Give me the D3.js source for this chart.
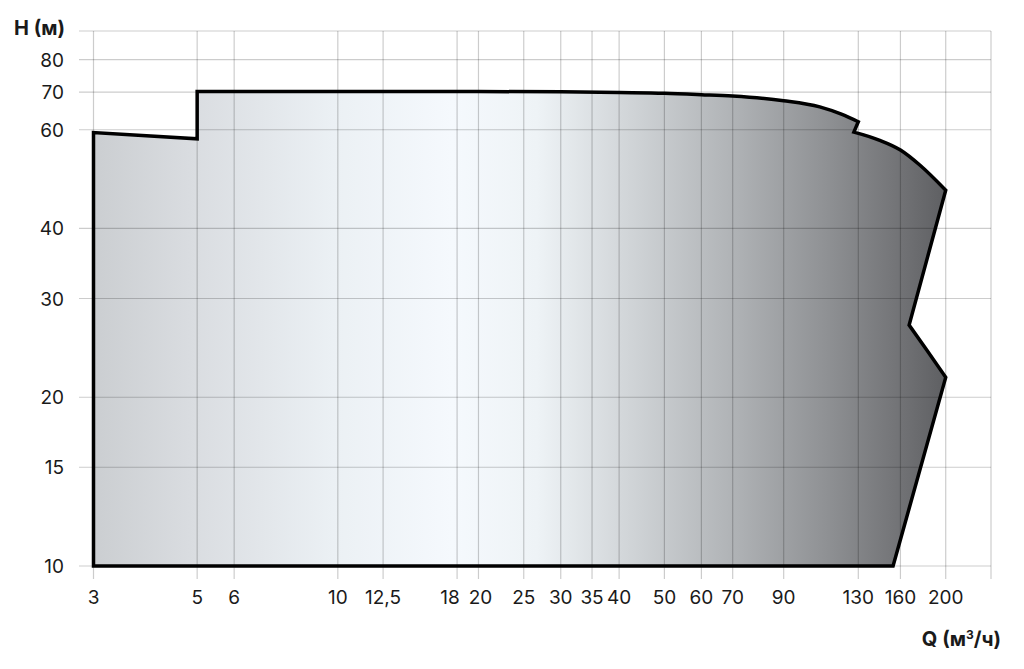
<!DOCTYPE html>
<html>
<head>
<meta charset="utf-8">
<script src="https://cdn.jsdelivr.net/npm/d3@7"></script>
<style>
  html, body { margin: 0; padding: 0; background: #fff; }
  svg { display: block; font-family: Inter, "Noto Sans", sans-serif; }
</style>
</head>
<body>
<svg id="chart" width="1024" height="669"></svg>
<script>
// tick values and their labels
const qTicks = [3, 5, 6, 10, 12.5, 18, 20, 25, 30, 35, 40, 50, 60, 70, 90, 130, 160, 200];
const qTickLabels = ["3", "5", "6", "10", "12,5", "18", "20", "25", "30", "35", "40", "50", "60", "70", "90", "130", "160", "200"];
const hTicks = [10, 15, 20, 30, 40, 60, 70, 80];
const hTickLabels = ["10", "15", "20", "30", "40", "60", "70", "80"];

// outline of the working range (Q in m3/h, H in m)
// left part: straight edges
const leftQ = [154.3, 3, 3, 5, 5];
const leftH = [10, 10, 59.3, 57.8, 70.2];
// upper curve up to the step at 130
const topQ = [5, 20, 30, 40, 50, 60, 70, 90, 107.5, 120, 130];
const topH = [70.2, 70.2, 70.1, 69.9, 69.7, 69.3, 68.9, 67.6, 65.9, 63.9, 62.0];
// curve after the step down to 200
const shoulderQ = [127.2, 144, 160, 176, 200];
const shoulderH = [59.4, 57.5, 55.2, 51.9, 46.8];
// right edge with the notch
const rightQ = [200, 167, 182, 200, 154.3];
const rightH = [46.8, 26.9, 24.3, 21.7, 10];

const width = 1024, height = 669;
const svg = d3.select("#chart");

const x = d3.scaleLog().domain([3, 250]).range([93.5, 991]);
const y = d3.scaleLog().domain([10, 90]).range([566, 31]);

// shading of the area, left to right
const defs = svg.append("defs");
const grad = defs.append("linearGradient")
  .attr("id", "fillGrad")
  .attr("gradientUnits", "userSpaceOnUse")
  .attr("x1", x(3)).attr("y1", 0)
  .attr("x2", x(200)).attr("y2", 0);
[
  [0, "#cbced1"],
  [0.12, "#dadde1"],
  [0.28, "#ebf0f4"],
  [0.42, "#f5f9fd"],
  [0.52, "#eef3f6"],
  [0.62, "#d3d7da"],
  [0.75, "#b0b3b6"],
  [0.86, "#8f9194"],
  [0.94, "#747578"],
  [1, "#5e5f62"]
].forEach(([o, c]) => grad.append("stop").attr("offset", o).attr("stop-color", c));

const zip = (qs, hs) => qs.map((q, i) => [q, hs[i]]);
const straight = d3.line().x(d => x(d[0])).y(d => y(d[1]));
const smooth = d3.line().x(d => x(d[0])).y(d => y(d[1])).curve(d3.curveMonotoneX);

// join the pieces into one closed outline
const outline =
  straight(zip(leftQ, leftH)) +
  smooth(zip(topQ, topH)).replace(/^M/, "L") +
  straight([[topQ[topQ.length - 1], topH[topH.length - 1]], [shoulderQ[0], shoulderH[0]]]).replace(/^M/, "L") +
  smooth(zip(shoulderQ, shoulderH)).replace(/^M/, "L") +
  straight(zip(rightQ, rightH)).replace(/^M/, "L") + "Z";

// area fill
svg.append("path")
  .attr("d", outline)
  .attr("fill", "url(#fillGrad)");

// grid, drawn on top of the fill so it darkens over grey
const grid = svg.append("g").attr("stroke", "#000").attr("stroke-opacity", 0.2).attr("stroke-width", 1.2);
grid.selectAll("line.v").data(qTicks).join("line")
  .attr("x1", d => x(d)).attr("x2", d => x(d))
  .attr("y1", y(90)).attr("y2", 579);
grid.append("line").attr("x1", 991).attr("x2", 991).attr("y1", y(90)).attr("y2", 579);
grid.selectAll("line.h").data(hTicks).join("line")
  .attr("x1", 79).attr("x2", 991)
  .attr("y1", d => y(d)).attr("y2", d => y(d));
grid.append("line").attr("x1", 79).attr("x2", 991).attr("y1", y(90)).attr("y2", y(90));

// outline
svg.append("path")
  .attr("d", outline)
  .attr("fill", "none")
  .attr("stroke", "#000")
  .attr("stroke-width", 3.5)
  .attr("stroke-linejoin", "miter");

// tick labels; 18 and 20 sit close, so they are pushed apart a little
const labelNudge = { "18": -7, "20": 2 };
svg.append("g").selectAll("text").data(qTicks).join("text")
  .attr("x", (d, i) => x(d) + (labelNudge[qTickLabels[i]] || 0))
  .attr("y", 604)
  .attr("text-anchor", "middle")
  .attr("font-size", 19)
  .attr("fill", "#1a1a1a")
  .text((d, i) => qTickLabels[i]);

svg.append("g").selectAll("text").data(hTicks).join("text")
  .attr("x", 64)
  .attr("y", d => y(d) + 7)
  .attr("text-anchor", "end")
  .attr("font-size", 19)
  .attr("fill", "#1a1a1a")
  .text((d, i) => hTickLabels[i]);

// axis titles
svg.append("text")
  .attr("x", 14).attr("y", 35)
  .attr("font-size", 20).attr("font-weight", 700)
  .attr("fill", "#1a1a1a")
  .text("H (м)");

const qt = svg.append("text")
  .attr("x", 1001).attr("y", 646)
  .attr("text-anchor", "end")
  .attr("font-size", 20).attr("font-weight", 700)
  .attr("fill", "#1a1a1a");
qt.append("tspan").text("Q (м");
qt.append("tspan").attr("font-size", 12).attr("dy", -7).text("3");
qt.append("tspan").attr("dy", 7).text("/ч)");
</script>
</body>
</html>
